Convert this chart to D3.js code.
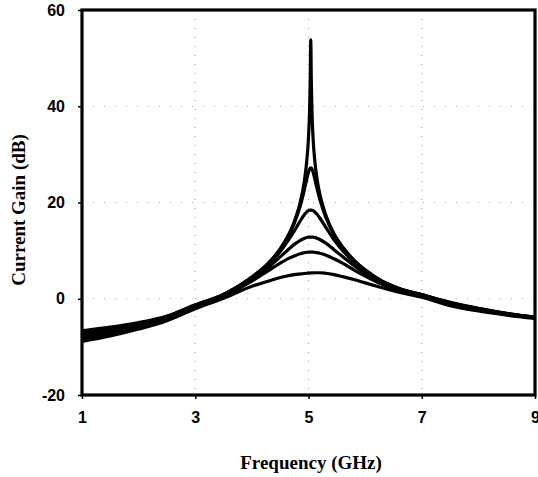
<!DOCTYPE html>
<html>
<head>
<meta charset="utf-8">
<script src="https://cdn.jsdelivr.net/npm/d3@7"></script>
<style>
  html, body { margin: 0; padding: 0; background: #fff; }
  svg { display: block; }
</style>
</head>
<body>
<svg id="chart" width="538" height="477"></svg>
<script>
// ---- data ----
const freqGHz = [1, 1.5, 2, 2.5, 3, 3.5, 4, 4.3, 4.5, 4.65, 4.75, 4.85, 4.92, 4.97, 5.0, 5.02, 5.03, 5.04, 5.05, 5.06, 5.08, 5.11, 5.15, 5.2, 5.3, 5.45, 5.6, 5.8, 6.0, 6.3, 6.6, 7.0, 7.5, 8.0, 8.5, 9.0];

const gainPeak54 = [-6.65, -5.9, -4.95, -3.59, -1.26, 0.91, 4.51, 7.51, 10.37, 13.36, 16.04, 19.87, 23.94, 28.7, 33.55, 39.45, 45.0, 53.8, 45.0, 39.5, 33.6, 28.8, 24.94, 21.73, 17.56, 13.5, 10.8, 8.05, 6.0, 3.65, 2.15, 0.85, -0.75, -2.0, -3.05, -3.85];
const gainPeak27 = [-7.1, -6.26, -5.19, -3.72, -1.3, 0.9, 4.49, 7.46, 10.29, 13.18, 15.71, 19.13, 22.26, 24.91, 26.33, 26.98, 27.15, 27.21, 27.15, 26.98, 26.34, 24.94, 22.93, 20.66, 17.11, 13.3, 10.7, 8.0, 5.95, 3.63, 2.14, 0.85, -0.78, -2.02, -3.06, -3.86];
const gainPeak18 = [-7.55, -6.62, -5.44, -3.87, -1.38, 0.84, 4.36, 7.2, 9.8, 12.3, 14.1, 16.1, 17.35, 18.05, 18.3, 18.39, 18.4, 18.41, 18.41, 18.38, 18.3, 18.04, 17.56, 16.78, 14.95, 12.25, 10.05, 7.65, 5.75, 3.52, 2.08, 0.8, -0.82, -2.06, -3.09, -3.88];
const gainPeak13 = [-8.0, -6.98, -5.69, -4.05, -1.51, 0.72, 4.05, 6.6, 8.7, 10.3, 11.3, 12.1, 12.5, 12.73, 12.8, 12.81, 12.81, 12.81, 12.82, 12.82, 12.8, 12.72, 12.59, 12.32, 11.6, 10.2, 8.8, 6.9, 5.3, 3.3, 1.95, 0.7, -0.95, -2.15, -3.15, -3.92];
const gainPeak10 = [-8.46, -7.35, -6.0, -4.24, -1.67, 0.55, 3.65, 5.9, 7.4, 8.4, 8.9, 9.35, 9.55, 9.67, 9.7, 9.7, 9.7, 9.7, 9.7, 9.71, 9.69, 9.65, 9.59, 9.46, 9.1, 8.3, 7.4, 6.0, 4.7, 3.0, 1.75, 0.55, -1.15, -2.3, -3.25, -3.98];
const gainPeak5 = [-8.88, -7.74, -6.3, -4.55, -2.06, 0.1, 2.6, 3.7, 4.4, 4.8, 5.0, 5.15, 5.25, 5.3, 5.32, 5.34, 5.35, 5.36, 5.37, 5.38, 5.39, 5.4, 5.4, 5.4, 5.3, 5.0, 4.6, 4.0, 3.3, 2.3, 1.35, 0.3, -1.45, -2.55, -3.4, -4.08];

const seriesList = [gainPeak54, gainPeak27, gainPeak18, gainPeak13, gainPeak10, gainPeak5];

const xTickValues = [1, 3, 5, 7, 9];
const yTickValues = [-20, 0, 20, 40, 60];
const xTitle = "Frequency (GHz)";
const yTitle = "Current Gain (dB)";

(function () {
// ---- layout ----
const mLeft = 82, mRight = 535, mTop = 10, mBottom = 395;
const svg = d3.select("#chart");

const x = d3.scaleLinear().domain([1, 9]).range([mLeft, mRight]);
const y = d3.scaleLinear().domain([-20, 60]).range([mBottom, mTop]);

// gridlines (very sparse dots)
const grid = svg.append("g").attr("class", "grid");
grid.selectAll("line.h").data(yTickValues.filter(v => v > -20 && v < 60)).join("line")
  .attr("x1", mLeft).attr("x2", mRight)
  .attr("y1", d => y(d)).attr("y2", d => y(d))
  .attr("stroke", "#aaa").attr("stroke-width", 1).attr("stroke-dasharray", "1,10");
grid.selectAll("line.v").data(xTickValues.filter(v => v > 1 && v < 9)).join("line")
  .attr("y1", mTop).attr("y2", mBottom)
  .attr("x1", d => x(d)).attr("x2", d => x(d))
  .attr("stroke", "#999").attr("stroke-width", 1).attr("stroke-dasharray", "1,8");

// curves
const clipId = "plotclip";
svg.append("clipPath").attr("id", clipId).append("rect")
  .attr("x", mLeft).attr("y", mTop).attr("width", mRight - mLeft).attr("height", mBottom - mTop);

const line = d3.line()
  .x((d, i) => x(freqGHz[i]))
  .y(d => y(d))
  .curve(d3.curveMonotoneX);

svg.append("g").attr("clip-path", `url(#${clipId})`)
  .selectAll("path").data(seriesList).join("path")
  .attr("d", d => line(d))
  .attr("fill", "none")
  .attr("stroke", "#000")
  .attr("stroke-width", 3.2)
  .attr("stroke-linejoin", "round")
  .attr("stroke-linecap", "round");

// axes
const tickFont = "'Liberation Sans', Arial, sans-serif";
const yAxis = d3.axisLeft(y).tickValues(yTickValues).tickSize(4).tickPadding(13).tickFormat(d3.format("d"));
const xAxis = d3.axisBottom(x).tickValues(xTickValues).tickSize(4).tickPadding(13).tickFormat(d3.format("d"));

const gy = svg.append("g").attr("transform", `translate(${mLeft},0)`).call(yAxis);
const gx = svg.append("g").attr("transform", `translate(0,${mBottom})`).call(xAxis);
[gx, gy].forEach(g => {
  g.select(".domain").remove();
  g.selectAll(".tick line").attr("stroke", "#000").attr("stroke-width", 1.5);
  g.selectAll(".tick text")
    .attr("fill", "#000")
    .style("font-family", tickFont)
    .style("font-weight", "bold")
    .style("font-size", "16px");
});
gy.selectAll(".tick text").text(d => d < 0 ? "-" + Math.abs(d) : d);

// frame
svg.append("rect")
  .attr("x", mLeft).attr("y", mTop)
  .attr("width", mRight - mLeft).attr("height", mBottom - mTop)
  .attr("fill", "none").attr("stroke", "#000").attr("stroke-width", 3.2);

// titles
const titleFont = "'Liberation Serif', 'Times New Roman', serif";
svg.append("text")
  .attr("x", 311).attr("y", 469)
  .attr("text-anchor", "middle")
  .style("font-family", titleFont).style("font-weight", "bold").style("font-size", "19px")
  .text(xTitle);
svg.append("text")
  .attr("transform", "translate(25,210) rotate(-90)")
  .attr("text-anchor", "middle")
  .style("font-family", titleFont).style("font-weight", "bold").style("font-size", "19px")
  .text(yTitle);
})();
</script>
</body>
</html>
